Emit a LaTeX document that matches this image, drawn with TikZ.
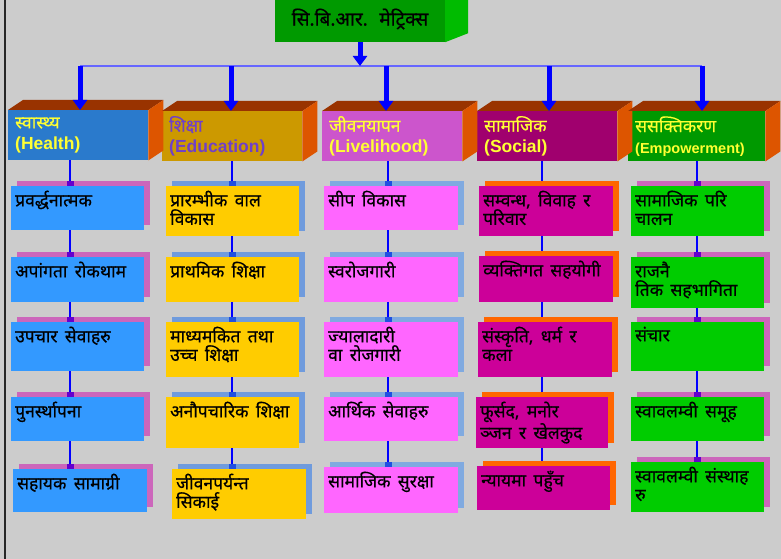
\documentclass[tikz,border=0pt]{standalone}
\usepackage{fontspec}
\setmainfont{Liberation Sans}
\newfontfamily\dev[Script=Devanagari]{Noto Sans}
\newfontfamily\devb[Script=Devanagari, FakeBold=0.5]{Noto Sans}
\newcommand\widesp{\spaceskip 0.42em\relax}
\usepackage{tikz}
\usetikzlibrary{arrows.meta}
\usetikzlibrary{shadows}
\definecolor{bg}{HTML}{CCCCCC}
\definecolor{topbrown}{HTML}{993300}
\definecolor{sideorange}{HTML}{DD5500}
\definecolor{hblue}{HTML}{2A7ACC}
\definecolor{hgold}{HTML}{CC9900}
\definecolor{horchid}{HTML}{CC55CC}
\definecolor{hplum}{HTML}{A0006E}
\definecolor{hgreen}{HTML}{009900}
\definecolor{hyellow}{HTML}{FFFF33}
\definecolor{hpurple}{HTML}{7040C8}
\definecolor{bblue}{HTML}{3399FF}
\definecolor{byellow}{HTML}{FFCC00}
\definecolor{bpink}{HTML}{FF66FF}
\definecolor{bmagenta}{HTML}{CC0099}
\definecolor{bgreen}{HTML}{00CC00}
\definecolor{shpink}{HTML}{CC66BB}
\definecolor{shblue}{HTML}{6F9BDD}
\definecolor{shlblue}{HTML}{80AAE0}
\definecolor{shorange}{HTML}{FF6600}
\definecolor{tgreen}{HTML}{009A00}
\definecolor{tside}{HTML}{00BB00}
\definecolor{linkblue}{HTML}{0000FF}
\definecolor{busblue}{HTML}{6666FF}
\definecolor{jpurple}{HTML}{6600CC}
\definecolor{jblue}{HTML}{2050E0}
\tikzset{backplate/.style={general shadow={fill=#1, shadow xshift=6pt, shadow yshift=5pt}}}
\tikzset{cbox/.style={anchor=north west, minimum width=133, inner sep=0}}
\tikzset{btext/.style={anchor=north west, inner xsep=4pt, inner ysep=4.5pt, align=left,
  font=\devb\fontsize{17.5}{18.5}\selectfont\widesp}}
\tikzset{head/.style={anchor=north west, minimum height=50, text width=126pt, inner xsep=7pt,
  align=left, text=hyellow, font=\bfseries\fontsize{17.5}{21}\selectfont}}
\tikzset{bigarrow/.style={draw=linkblue, line width=5pt, -{Triangle[width=14pt,length=10pt]}}}
\tikzset{link/.style={draw=linkblue, line width=2pt, -{Rectangle[length=5pt,width=7pt,color=#1]}}}

\begin{document}
\begin{tikzpicture}[x=1pt, y=-1pt]
  \fill[bg] (0,0) rectangle (781,559);
  \useasboundingbox (0,0) rectangle (781,559);
  \draw[black!85, line width=1.5pt] (5,0) -- (5,559);

  % title block
  \node[fill=tgreen, minimum width=170, minimum height=46, font=\devb\fontsize{19}{21}\selectfont] (title) at (360,19) {सि.बि.आर.~ मेट्रिक्स};
  \fill[tside] (title.south east) -- ++(23,-9) -- ++(0,-50) -- (title.north east) -- cycle;

  % headers
  \node[head, fill=hblue] (h1) at (8,110) {{\devb स्वास्थ्य}\\(Health)};
  \node[head, fill=hgold, text=hpurple, minimum height=50] (h2) at (162,111) {{\devb शिक्षा}\\(Education)};
  \node[head, fill=horchid] (h3) at (322,111) {{\devb जीवनयापन}\\(Livelihood)};
  \node[head, fill=hplum] (h4) at (477,111) {{\devb सामाजिक}\\(Social)};
  \node[head, fill=hgreen, text width=123pt] (h5) at (628,111) {{\devb ससक्तिकरण}\\{\fontsize{14.5}{16}\selectfont(Empowerment)}};

  \fill[topbrown] (h1.north west) -- ++(15,-10) -- ([shift={(15,-10)}]h1.north east) -- (h1.north east) -- cycle;
  \fill[sideorange] (h1.north east) -- ++(15,-10) -- ([shift={(15,-10)}]h1.south east) -- (h1.south east) -- cycle;
  \fill[topbrown] (h2.north west) -- ++(15,-10) -- ([shift={(15,-10)}]h2.north east) -- (h2.north east) -- cycle;
  \fill[sideorange] (h2.north east) -- ++(15,-10) -- ([shift={(15,-10)}]h2.south east) -- (h2.south east) -- cycle;
  \fill[topbrown] (h3.north west) -- ++(15,-10) -- ([shift={(15,-10)}]h3.north east) -- (h3.north east) -- cycle;
  \fill[sideorange] (h3.north east) -- ++(15,-10) -- ([shift={(15,-10)}]h3.south east) -- (h3.south east) -- cycle;
  \fill[topbrown] (h4.north west) -- ++(15,-10) -- ([shift={(15,-10)}]h4.north east) -- (h4.north east) -- cycle;
  \fill[sideorange] (h4.north east) -- ++(15,-10) -- ([shift={(15,-10)}]h4.south east) -- (h4.south east) -- cycle;
  \fill[topbrown] (h5.north west) -- ++(15,-10) -- ([shift={(15,-10)}]h5.north east) -- (h5.north east) -- cycle;
  \fill[sideorange] (h5.north east) -- ++(15,-10) -- ([shift={(15,-10)}]h5.south east) -- (h5.south east) -- cycle;

  % bus and arrows
  \coordinate (a1) at (80,66);
  \coordinate (a2) at (231,66);
  \coordinate (a3) at (386,66);
  \coordinate (a4) at (549,66);
  \coordinate (a5) at (702,66);
  \draw[busblue, line width=1.5pt] (a1) -- (a5);
  \draw[bigarrow] (title.south) -- (title.south |- a1);
  \draw[bigarrow] (a1) -- (a1 |- h1.north);
  \draw[bigarrow] (a2) -- (a2 |- h2.north);
  \draw[bigarrow] (a3) -- (a3 |- h3.north);
  \draw[bigarrow] (a4) -- (a4 |- h4.north);
  \draw[bigarrow] (a5) -- (a5 |- h5.north);

  % column 1
  \node[cbox, fill=bblue, backplate=shpink, minimum height=44] (b11) at (11,186) {};
  \node[cbox, fill=bblue, backplate=shpink, minimum height=45] (b12) at (11,257) {};
  \node[cbox, fill=bblue, backplate=shpink, minimum height=49] (b13) at (11,322) {};
  \node[cbox, fill=bblue, backplate=shpink, minimum height=44] (b14) at (11,397) {};
  \node[cbox, fill=bblue, backplate=shpink, minimum height=43, minimum width=134] (b15) at (13,469) {};
  \node[btext] (t11) at (b11.north west) {प्रवर्द्धनात्मक};
  \node[btext] (t12) at (b12.north west) {अपांगता रोकथाम};
  \node[btext] (t13) at (b13.north west) {उपचार सेवाहरु};
  \node[btext] (t14) at (b14.north west) {पुनर्स्थापना};
  \node[btext] (t15) at (b15.north west) {सहायक सामाग्री};

  % column 2
  \node[cbox, fill=byellow, backplate=shblue, minimum height=50] (b21) at (166,186) {};
  \node[cbox, fill=byellow, backplate=shblue, minimum height=45] (b22) at (166,257) {};
  \node[cbox, fill=byellow, backplate=shblue, minimum height=55] (b23) at (166,322) {};
  \node[cbox, fill=byellow, backplate=shblue, minimum height=51] (b24) at (166,397) {};
  \node[cbox, fill=byellow, backplate=shblue, minimum height=50, minimum width=134] (b25) at (172,469) {};
  \node[btext] (t21) at (b21.north west) {प्रारम्भीक वाल\\विकास};
  \node[btext] (t22) at (b22.north west) {प्राथमिक शिक्षा};
  \node[btext] (t23) at (b23.north west) {माध्यमकित तथा\\उच्च शिक्षा};
  \node[btext] (t24) at (b24.north west) {अनौपचारिक शिक्षा};
  \node[btext] (t25) at (b25.north west) {जीवनपर्यन्त\\सिकाई};

  % column 3
  \node[cbox, fill=bpink, backplate=shlblue, minimum height=44, minimum width=134] (b31) at (324,186) {};
  \node[cbox, fill=bpink, backplate=shlblue, minimum height=45, minimum width=134] (b32) at (324,257) {};
  \node[cbox, fill=bpink, backplate=shlblue, minimum height=55, minimum width=134] (b33) at (324,322) {};
  \node[cbox, fill=bpink, backplate=shlblue, minimum height=44, minimum width=134] (b34) at (324,397) {};
  \node[cbox, fill=bpink, backplate=shlblue, minimum height=46, minimum width=134] (b35) at (324,467) {};
  \node[btext] (t31) at (b31.north west) {सीप विकास};
  \node[btext] (t32) at (b32.north west) {स्वरोजगारी};
  \node[btext] (t33) at (b33.north west) {ज्यालादारी\\वा रोजगारी};
  \node[btext] (t34) at (b34.north west) {आर्थिक सेवाहरु};
  \node[btext] (t35) at (b35.north west) {सामाजिक सुरक्षा};

  % column 4
  \node[cbox, fill=bmagenta, backplate=shorange, minimum height=50, minimum width=134] (b41) at (479,186) {};
  \node[cbox, fill=bmagenta, backplate=shorange, minimum height=46, minimum width=134] (b42) at (479,256) {};
  \node[cbox, fill=bmagenta, backplate=shorange, minimum height=55, minimum width=134] (b43) at (478,322) {};
  \node[cbox, fill=bmagenta, backplate=shorange, minimum height=51, minimum width=132] (b44) at (476,397) {};
  \node[cbox, fill=bmagenta, backplate=shorange, minimum height=44] (b45) at (477,466) {};
  \node[btext] (t41) at (b41.north west) {सम्वन्ध, विवाह र\\परिवार};
  \node[btext] (t42) at (b42.north west) {व्यक्तिगत सहयोगी};
  \node[btext] (t43) at (b43.north west) {संस्कृति, धर्म र\\कला};
  \node[btext] (t44) at (b44.north west) {फूर्सद, मनोर\\ञ्जन र खेलकुद};
  \node[btext] (t45) at (b45.north west) {न्यायमा पहुँच};

  % column 5
  \node[cbox, fill=bgreen, backplate=shpink, minimum height=50] (b51) at (631,186) {};
  \node[cbox, fill=bgreen, backplate=shpink, minimum height=51] (b52) at (631,257) {};
  \node[cbox, fill=bgreen, backplate=shpink, minimum height=49] (b53) at (631,322) {};
  \node[cbox, fill=bgreen, backplate=shpink, minimum height=44] (b54) at (631,397) {};
  \node[cbox, fill=bgreen, backplate=shpink, minimum height=50] (b55) at (631,462) {};
  \node[btext] (t51) at (b51.north west) {सामाजिक परि\\चालन};
  \node[btext] (t52) at (b52.north west) {राजनै\\तिक सहभागिता};
  \node[btext] (t53) at (b53.north west) {संचार};
  \node[btext] (t54) at (b54.north west) {स्वावलम्वी समूह};
  \node[btext] (t55) at (b55.north west) {स्वावलम्वी संस्थाह\\रु};

  % connectors
  \coordinate (c1) at (70,0);
  \coordinate (c2) at (232,0);
  \coordinate (c3) at (388,0);
  \coordinate (c4) at (542,0);
  \coordinate (c5) at (697,0);
  \draw[link=jpurple] (h1.south -| c1) -- (b11.north -| c1);
  \draw[link=jpurple] (b11.south -| c1) -- (b12.north -| c1);
  \draw[link=jpurple] (b12.south -| c1) -- (b13.north -| c1);
  \draw[link=jpurple] (b13.south -| c1) -- (b14.north -| c1);
  \draw[link=jpurple] (b14.south -| c1) -- (b15.north -| c1);
  \draw[link=jblue] (h2.south -| c2) -- (b21.north -| c2);
  \draw[link=jblue] (b21.south -| c2) -- (b22.north -| c2);
  \draw[link=jblue] (b22.south -| c2) -- (b23.north -| c2);
  \draw[link=jblue] (b23.south -| c2) -- (b24.north -| c2);
  \draw[link=jblue] (b24.south -| c2) -- (b25.north -| c2);
  \draw[link=jblue] (h3.south -| c3) -- (b31.north -| c3);
  \draw[link=jblue] (b31.south -| c3) -- (b32.north -| c3);
  \draw[link=jblue] (b32.south -| c3) -- (b33.north -| c3);
  \draw[link=jblue] (b33.south -| c3) -- (b34.north -| c3);
  \draw[link=jblue] (b34.south -| c3) -- (b35.north -| c3);
  \draw[link=shorange] (h4.south -| c4) -- (b41.north -| c4);
  \draw[link=shorange] (b41.south -| c4) -- (b42.north -| c4);
  \draw[link=shorange] (b42.south -| c4) -- (b43.north -| c4);
  \draw[link=shorange] (b43.south -| c4) -- (b44.north -| c4);
  \draw[link=shorange] (b44.south -| c4) -- (b45.north -| c4);
  \draw[link=jpurple] (h5.south -| c5) -- (b51.north -| c5);
  \draw[link=jpurple] (b51.south -| c5) -- (b52.north -| c5);
  \draw[link=jpurple] (b52.south -| c5) -- (b53.north -| c5);
  \draw[link=jpurple] (b53.south -| c5) -- (b54.north -| c5);
  \draw[link=jpurple] (b54.south -| c5) -- (b55.north -| c5);
\end{tikzpicture}
\end{document}
